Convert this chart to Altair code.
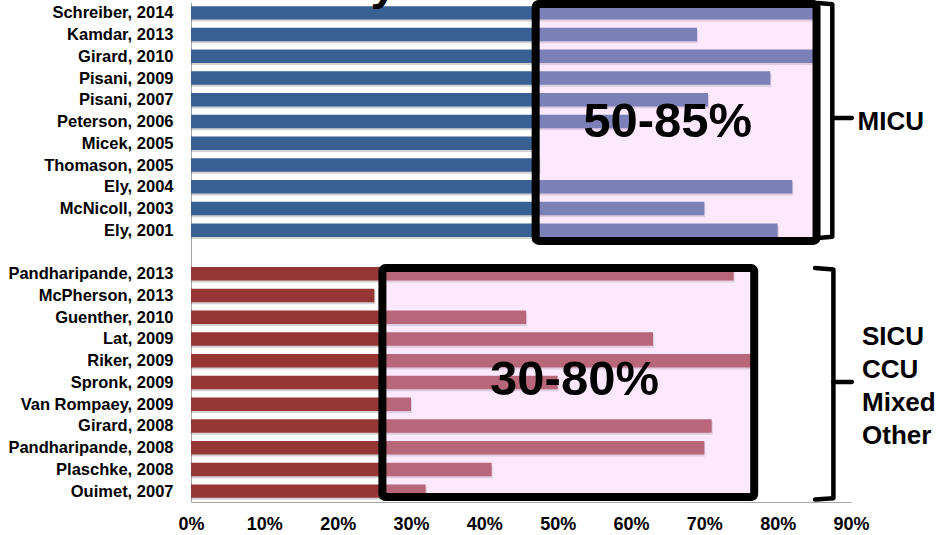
import altair as alt
import pandas as pd

# Studies, top to bottom, with reported delirium prevalence (%)
micu_studies = ["Schreiber, 2014", "Kamdar, 2013", "Girard, 2010", "Pisani, 2009",
                "Pisani, 2007", "Peterson, 2006", "Micek, 2005", "Thomason, 2005",
                "Ely, 2004", "McNicoll, 2003", "Ely, 2001"]
micu_values = [85, 69, 85, 79, 70.5, 60, 47, 47.5, 82, 70, 80]

other_studies = ["Pandharipande, 2013", "McPherson, 2013", "Guenther, 2010", "Lat, 2009",
                 "Riker, 2009", "Spronk, 2009", "Van Rompaey, 2009", "Girard, 2008",
                 "Pandharipande, 2008", "Plaschke, 2008", "Ouimet, 2007"]
other_values = [74, 25, 45.7, 63, 77, 50, 30, 71, 70, 41, 32]

x_ticks = [0, 10, 20, 30, 40, 50, 60, 70, 80, 90]

# Highlight boxes (x extent in %, y extent in row units) and their range labels
box_labels = ["50-85%", "30-80%"]
box_left = [47.0, 26.1]
box_right = [85.3, 76.8]
box_top = [-0.41, 11.74]
box_bottom = [10.49, 22.27]
box_label_x = [65.0, 52.3]
box_label_y = [5.02, 16.89]

# Group labels on the right
side_text = ["MICU", "SICU", "CCU", "Mixed", "Other"]
side_x = [90.9, 91.5, 91.5, 91.5, 91.5]
side_y = [5.02, 14.91, 16.43, 17.94, 19.46]

BLUE = "#386092"
RED = "#963735"
FONT = "Liberation Sans"

# Row layout: 11 MICU rows, one blank spacer row, 11 other rows
micu_rows = list(range(0, 11))
other_rows = list(range(12, 23))
half = 0.31

bars = pd.DataFrame({
    "study": micu_studies + other_studies,
    "value": micu_values + other_values,
    "group": ["MICU"] * 11 + ["Other"] * 11,
    "row": micu_rows + other_rows,
})
bars["zero"] = 0
bars["y0"] = bars["row"] - half
bars["y1"] = bars["row"] + half

boxes = pd.DataFrame({"label": box_labels, "x0": box_left, "x1": box_right,
                      "y0": box_top, "y1": box_bottom,
                      "lx": box_label_x, "ly": box_label_y})

side = pd.DataFrame({"text": side_text, "x": side_x, "y": side_y})

# Curly-bracket style braces: hooks, spine and a nub pointing at the label
brace_pts = [
    # top brace
    ("top_spine", 0, 85.5, -0.45), ("top_spine", 1, 87.45, -0.40),
    ("top_spine", 2, 87.45, 10.30), ("top_spine", 3, 85.5, 10.36),
    ("top_nub", 0, 87.45, 4.84), ("top_nub", 1, 90.1, 4.84),
    # bottom brace
    ("bot_spine", 0, 85.1, 11.74), ("bot_spine", 1, 87.6, 11.80),
    ("bot_spine", 2, 87.6, 22.33), ("bot_spine", 3, 85.1, 22.39),
    ("bot_nub", 0, 87.6, 16.98), ("bot_nub", 1, 90.1, 16.98),
]
braces = pd.DataFrame(brace_pts, columns=["part", "seq", "x", "y"])

# Descender of the slide title running above the chart
title_frag = pd.DataFrame({"t": ["y"], "x": [26.3], "y": [-0.64]})

label_expr = " : ".join(
    [f"datum.value == {r} ? '{s}'" for r, s in zip(micu_rows + other_rows, micu_studies + other_studies)]
) + " : ''"

x_scale = alt.Scale(domain=[0, 90], nice=False, zero=True)
y_scale = alt.Scale(domain=[-0.5, 22.5], reverse=True, nice=False, zero=False)

x_axis = alt.Axis(values=x_ticks, labelExpr="datum.value + '%'", title=None,
                  grid=False, ticks=False, tickSize=0, domainColor="#A6A6A6",
                  labelFont=FONT, labelFontSize=18, labelFontWeight="bold",
                  labelColor="black", labelPadding=13, labelFlush=False,
                  labelOverlap=False)
y_axis = alt.Axis(values=micu_rows + other_rows, labelExpr=label_expr, title=None,
                  grid=False, ticks=False, tickSize=0, domainColor="#A6A6A6",
                  labelFont=FONT, labelFontSize=16.5, labelFontWeight="bold",
                  labelColor="black", labelPadding=18, labelFlush=False,
                  labelOverlap=False)


def xq(field):
    return alt.X(field, type="quantitative", scale=x_scale, axis=x_axis)


def yq(field):
    return alt.Y(field, type="quantitative", scale=y_scale, axis=y_axis)


base = alt.Chart(bars)

shadow = base.mark_rect(color="#6E6E6E", opacity=0.3, yOffset=2, y2Offset=2,
                        x2Offset=1).encode(
    x=xq("zero"), x2="value:Q", y=yq("y0"), y2="y1:Q",
)

bar_layer = base.mark_rect().encode(
    x=xq("zero"), x2="value:Q", y=yq("y0"), y2="y1:Q",
    color=alt.Color("group:N", scale=alt.Scale(domain=["MICU", "Other"], range=[BLUE, RED]),
                    legend=None),
)

box_layer = alt.Chart(boxes).mark_rect(
    fill="#F9C0F9", fillOpacity=0.35, stroke="black", strokeWidth=8,
    cornerRadius=3, strokeJoin="round"
).encode(
    x=xq("x0"), x2="x1:Q", y=yq("y0"), y2="y1:Q",
)

box_text = alt.Chart(boxes).mark_text(
    font=FONT, fontSize=49, fontWeight="bold", color="black",
    align="center", baseline="middle"
).encode(
    x=xq("lx"), y=yq("ly"), text="label:N",
)

brace_layer = alt.Chart(braces).mark_line(
    color="black", strokeWidth=4.5, strokeCap="round", strokeJoin="round"
).encode(
    x=xq("x"), y=yq("y"), detail="part:N", order="seq:Q",
)

side_layer = alt.Chart(side).mark_text(
    font=FONT, fontSize=26, fontWeight="bold", color="black",
    align="left", baseline="middle"
).encode(
    x=xq("x"), y=yq("y"), text="text:N",
)

title_layer = alt.Chart(title_frag).mark_text(
    font=FONT, fontSize=48, fontWeight="bold", color="black",
    align="center", baseline="alphabetic"
).encode(
    x=xq("x"), y=yq("y"), text="t:N",
)

chart = alt.layer(
    shadow, bar_layer, box_layer, box_text, brace_layer, side_layer, title_layer
).properties(
    width=660, height=500,
    padding={"left": 191, "top": 2, "right": 86, "bottom": 33},
    autosize=alt.AutoSizeParams(type="none"),
    background="white",
).configure_view(stroke=None)

chart.save("out.html", embed_options={"renderer": "svg", "actions": False})
